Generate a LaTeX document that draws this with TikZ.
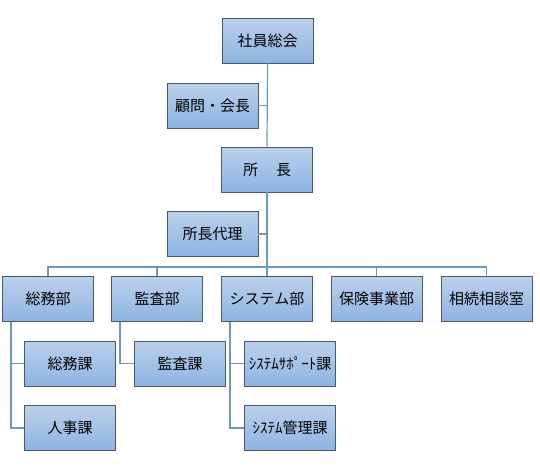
\documentclass[tikz,border=0pt]{standalone}
\usepackage{fontspec}
\setmainfont{Noto Sans CJK JP}
\usepackage{tikz}
\usetikzlibrary{positioning,calc}
\definecolor{boxtop}{RGB}{186,208,236}
\definecolor{boxbottom}{RGB}{141,179,226}
\definecolor{boxline}{RGB}{74,88,104}
\definecolor{linkblue}{RGB}{112,150,196}

\begin{document}
\begin{tikzpicture}[x=1pt, y=-1pt,
    orgbox/.style={draw=boxline, line width=0.9pt, top color=boxtop, bottom color=boxbottom,
        minimum width=91pt, minimum height=45pt, inner sep=1pt,
        font=\fontsize{15}{18}\selectfont},
    link/.style={linkblue, line width=1.2pt}]
        \useasboundingbox (0,0) rectangle (540,469);

        % Top of the chart
        \node[orgbox] (soukai) at (267.5,40.5) {社員総会};
        \node[orgbox] (komon) at (212.5,105.5) {顧問・会長};
        \node[orgbox] (shocho) at (267,169.5) {所\hspace{18pt}長};
        \node[orgbox] (dairi) at (212.5,234) {所長代理};

        % Departments
        \node[orgbox] (soumubu) at (48,299) {総務部};
        \node[orgbox] (kansabu) at (157,299) {監査部};
        \node[orgbox] (systembu) at (267,299) {システム部};
        \node[orgbox] (hokenbu) at (376.5,299) {保険事業部};
        \node[orgbox] (souzoku) at (486.5,299) {相続相談室};

        % Sections
        \node[orgbox] (soumuka) at (70,363.5) {総務課};
        \node[orgbox] (jinjika) at (70,428) {人事課};
        \node[orgbox] (kansaka) at (180,363.5) {監査課};
        \node[orgbox] (support) at (290,363.5) {ｼｽﾃﾑｻﾎﾟｰﾄ課};
        \node[orgbox] (kanri) at (290,428) {ｼｽﾃﾑ管理課};

        % Vertical spine
        \draw[link] (soukai.south) -- (shocho.north);
        \coordinate (bus) at (shocho.center |- 267,267);
        \draw[link] (shocho.south) -- (bus);
        \draw[link] (komon.east) -- (komon.east -| soukai.south);
        \draw[link] (dairi.east) -- (dairi.east -| shocho.south);

        % Bus to the departments
        \draw[link] (soumubu.north) -- (soumubu.north |- bus) -| (souzoku.north);
        \foreach \d in {kansabu,systembu,hokenbu}
            \draw[link] (\d.north) -- (\d.north |- bus);

        % Sections under each department
        \draw[link] ([xshift=9pt]soumubu.south west) |- (jinjika.west);
        \draw[link] ([xshift=9pt]soumubu.south west |- soumuka.west) -- (soumuka.west);
        \draw[link] ([xshift=9pt]kansabu.south west) |- (kansaka.west);
        \draw[link] ([xshift=9pt]systembu.south west) |- (kanri.west);
        \draw[link] ([xshift=9pt]systembu.south west |- support.west) -- (support.west);
    \end{tikzpicture}
\end{document}
